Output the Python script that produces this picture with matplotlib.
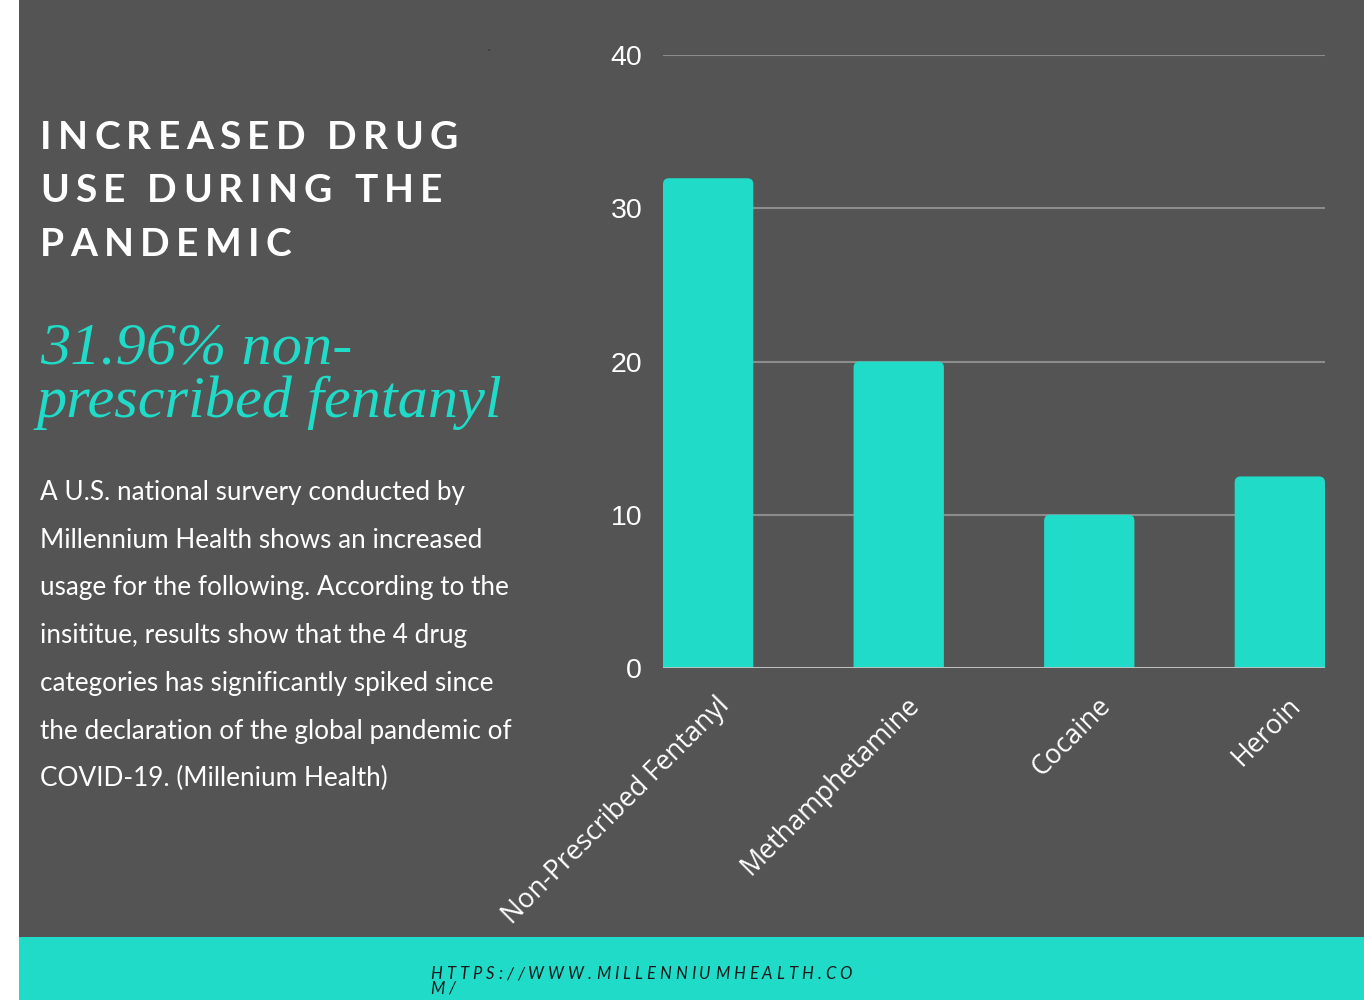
import matplotlib
matplotlib.use("Agg")
import matplotlib.pyplot as plt
from matplotlib.font_manager import FontProperties
from matplotlib.patches import Rectangle, FancyBboxPatch
from matplotlib.transforms import ScaledTranslation

# data
drugs = ["Non-Prescribed Fentanyl", "Methamphetamine", "Cocaine", "Heroin"]
increase = [31.96, 20.0, 10.0, 12.5]
yticks = [0, 10, 20, 30, 40]

title_lines = ["INCREASED DRUG", "USE DURING THE", "PANDEMIC"]
highlight_lines = ["31.96% non-", "prescribed fentanyl"]
body_lines = [
    "A U.S. national survery conducted by",
    "Millennium Health shows an increased",
    "usage for the following. According to the",
    "insititue, results show that the 4 drug",
    "categories has significantly spiked since",
    "the declaration of the global pandemic of",
    "COVID-19. (Millenium Health)",
]
url_lines = ["HTTPS://WWW.MILLENNIUMHEALTH.CO", "M/"]

BG = "#545454"
TEAL = "#20dbc8"
W, H = 1364, 1000

fig = plt.figure(figsize=(W / 100, H / 100), dpi=100)
fig.patch.set_facecolor("white")
fig.patches.append(Rectangle((19 / W, 63 / H), 1, 1, transform=fig.transFigure,
                             facecolor=BG, edgecolor="none", zorder=-10))
fig.patches.append(Rectangle((19 / W, 0), 1, 63 / H, transform=fig.transFigure,
                             facecolor=TEAL, edgecolor="none", zorder=-10))

renderer = fig.canvas.get_renderer()


def text_w(s, prop):
    return renderer.get_text_width_height_descent(s, prop, ismath=False)[0]


def fy(y):
    return 1 - y / H


def tracked(s, x, y, prop, track, color):
    base = text_w("M", prop)
    for i, ch in enumerate(s):
        if ch == " ":
            continue
        adv = text_w(s[:i] + "M", prop) - base if i else 0
        fig.text((x + adv + i * track) / W, fy(y), ch, fontproperties=prop,
                 color=color, ha="left", va="baseline")


# title, letter-spaced
title_prop = FontProperties(family="Lato", weight="bold", size=28)
track = (418 - text_w(title_lines[0], title_prop)) / (len(title_lines[0]) - 1)
for i, line in enumerate(title_lines):
    tracked(line, 40, 149 + i * 53.5, title_prop, track, "white")

# big italic highlight
hl_prop = FontProperties(family="Liberation Serif", style="italic", size=40)
hl_prop.set_size(40 * 465 / text_w(highlight_lines[1], hl_prop))
fig.text(40 / W, fy(363), highlight_lines[0], fontproperties=hl_prop,
         color=TEAL, ha="left", va="baseline")
fig.text(37 / W, fy(417), highlight_lines[1], fontproperties=hl_prop,
         color=TEAL, ha="left", va="baseline")

# body paragraph
body_prop = FontProperties(family="Lato", size=17)
body_prop.set_size(17 * 440 / text_w(body_lines[1], body_prop))
for i, line in enumerate(body_lines):
    fig.text(40 / W, fy(500 + i * 47.7), line, fontproperties=body_prop,
             color="white", ha="left", va="baseline")

# url in footer band
url_prop = FontProperties(family="Lato", style="italic", size=12)
utrack = (422 - text_w(url_lines[0], url_prop)) / (len(url_lines[0]) - 1)
tracked(url_lines[0], 430, 979, url_prop, utrack, "#1a1a1a")
tracked(url_lines[1], 430, 994, url_prop, utrack, "#1a1a1a")

fig.text(487 / W, fy(50), ",", fontsize=5, color="black")

# bar chart
ax = fig.add_axes([663 / W, 1 - 668 / H, (1325 - 663) / W, (668 - 55) / H])
ax.set_facecolor("none")
x = list(range(len(drugs)))
bars = ax.bar(x, increase, width=0.474, color=TEAL, zorder=2)
ax.set_xlim(-0.237, len(drugs) - 1 + 0.237)
ax.set_ylim(0, 40)

# rounded tops
fig.canvas.draw()
bb = ax.get_window_extent()
xpp = (ax.get_xlim()[1] - ax.get_xlim()[0]) / bb.width
ypp = (ax.get_ylim()[1] - ax.get_ylim()[0]) / bb.height
for b in bars:
    b.set_visible(False)
    ax.add_patch(FancyBboxPatch((b.get_x(), -2), b.get_width(), b.get_height() + 2,
                                boxstyle="round,pad=0,rounding_size=%f" % (6 * xpp),
                                mutation_aspect=ypp / xpp,
                                facecolor=TEAL, edgecolor="none", zorder=2))

ax.set_yticks(yticks)
ax.yaxis.grid(True, color="#8c8c8c", linewidth=1.5, zorder=0)
ax.set_axisbelow(True)
ax.axhline(0, color="#c4c4c4", linewidth=2, zorder=3)
for s in ax.spines.values():
    s.set_visible(False)
ax.tick_params(axis="y", length=0, pad=15, labelcolor="white", labelsize=20.5)
for lab in ax.get_yticklabels():
    lab.set_family("Liberation Sans")

ax.set_xticks(x)
ax.set_xticklabels(drugs, rotation=45, ha="right", va="top",
                   rotation_mode="anchor", fontsize=19.4, family="Open Sans",
                   color="white")
ax.tick_params(axis="x", length=0, pad=17)
for lab in ax.get_xticklabels():
    lab.set_transform(lab.get_transform() + ScaledTranslation(0.07, 0, fig.dpi_scale_trans))

fig.savefig("out.png", dpi=100, facecolor=fig.get_facecolor())
